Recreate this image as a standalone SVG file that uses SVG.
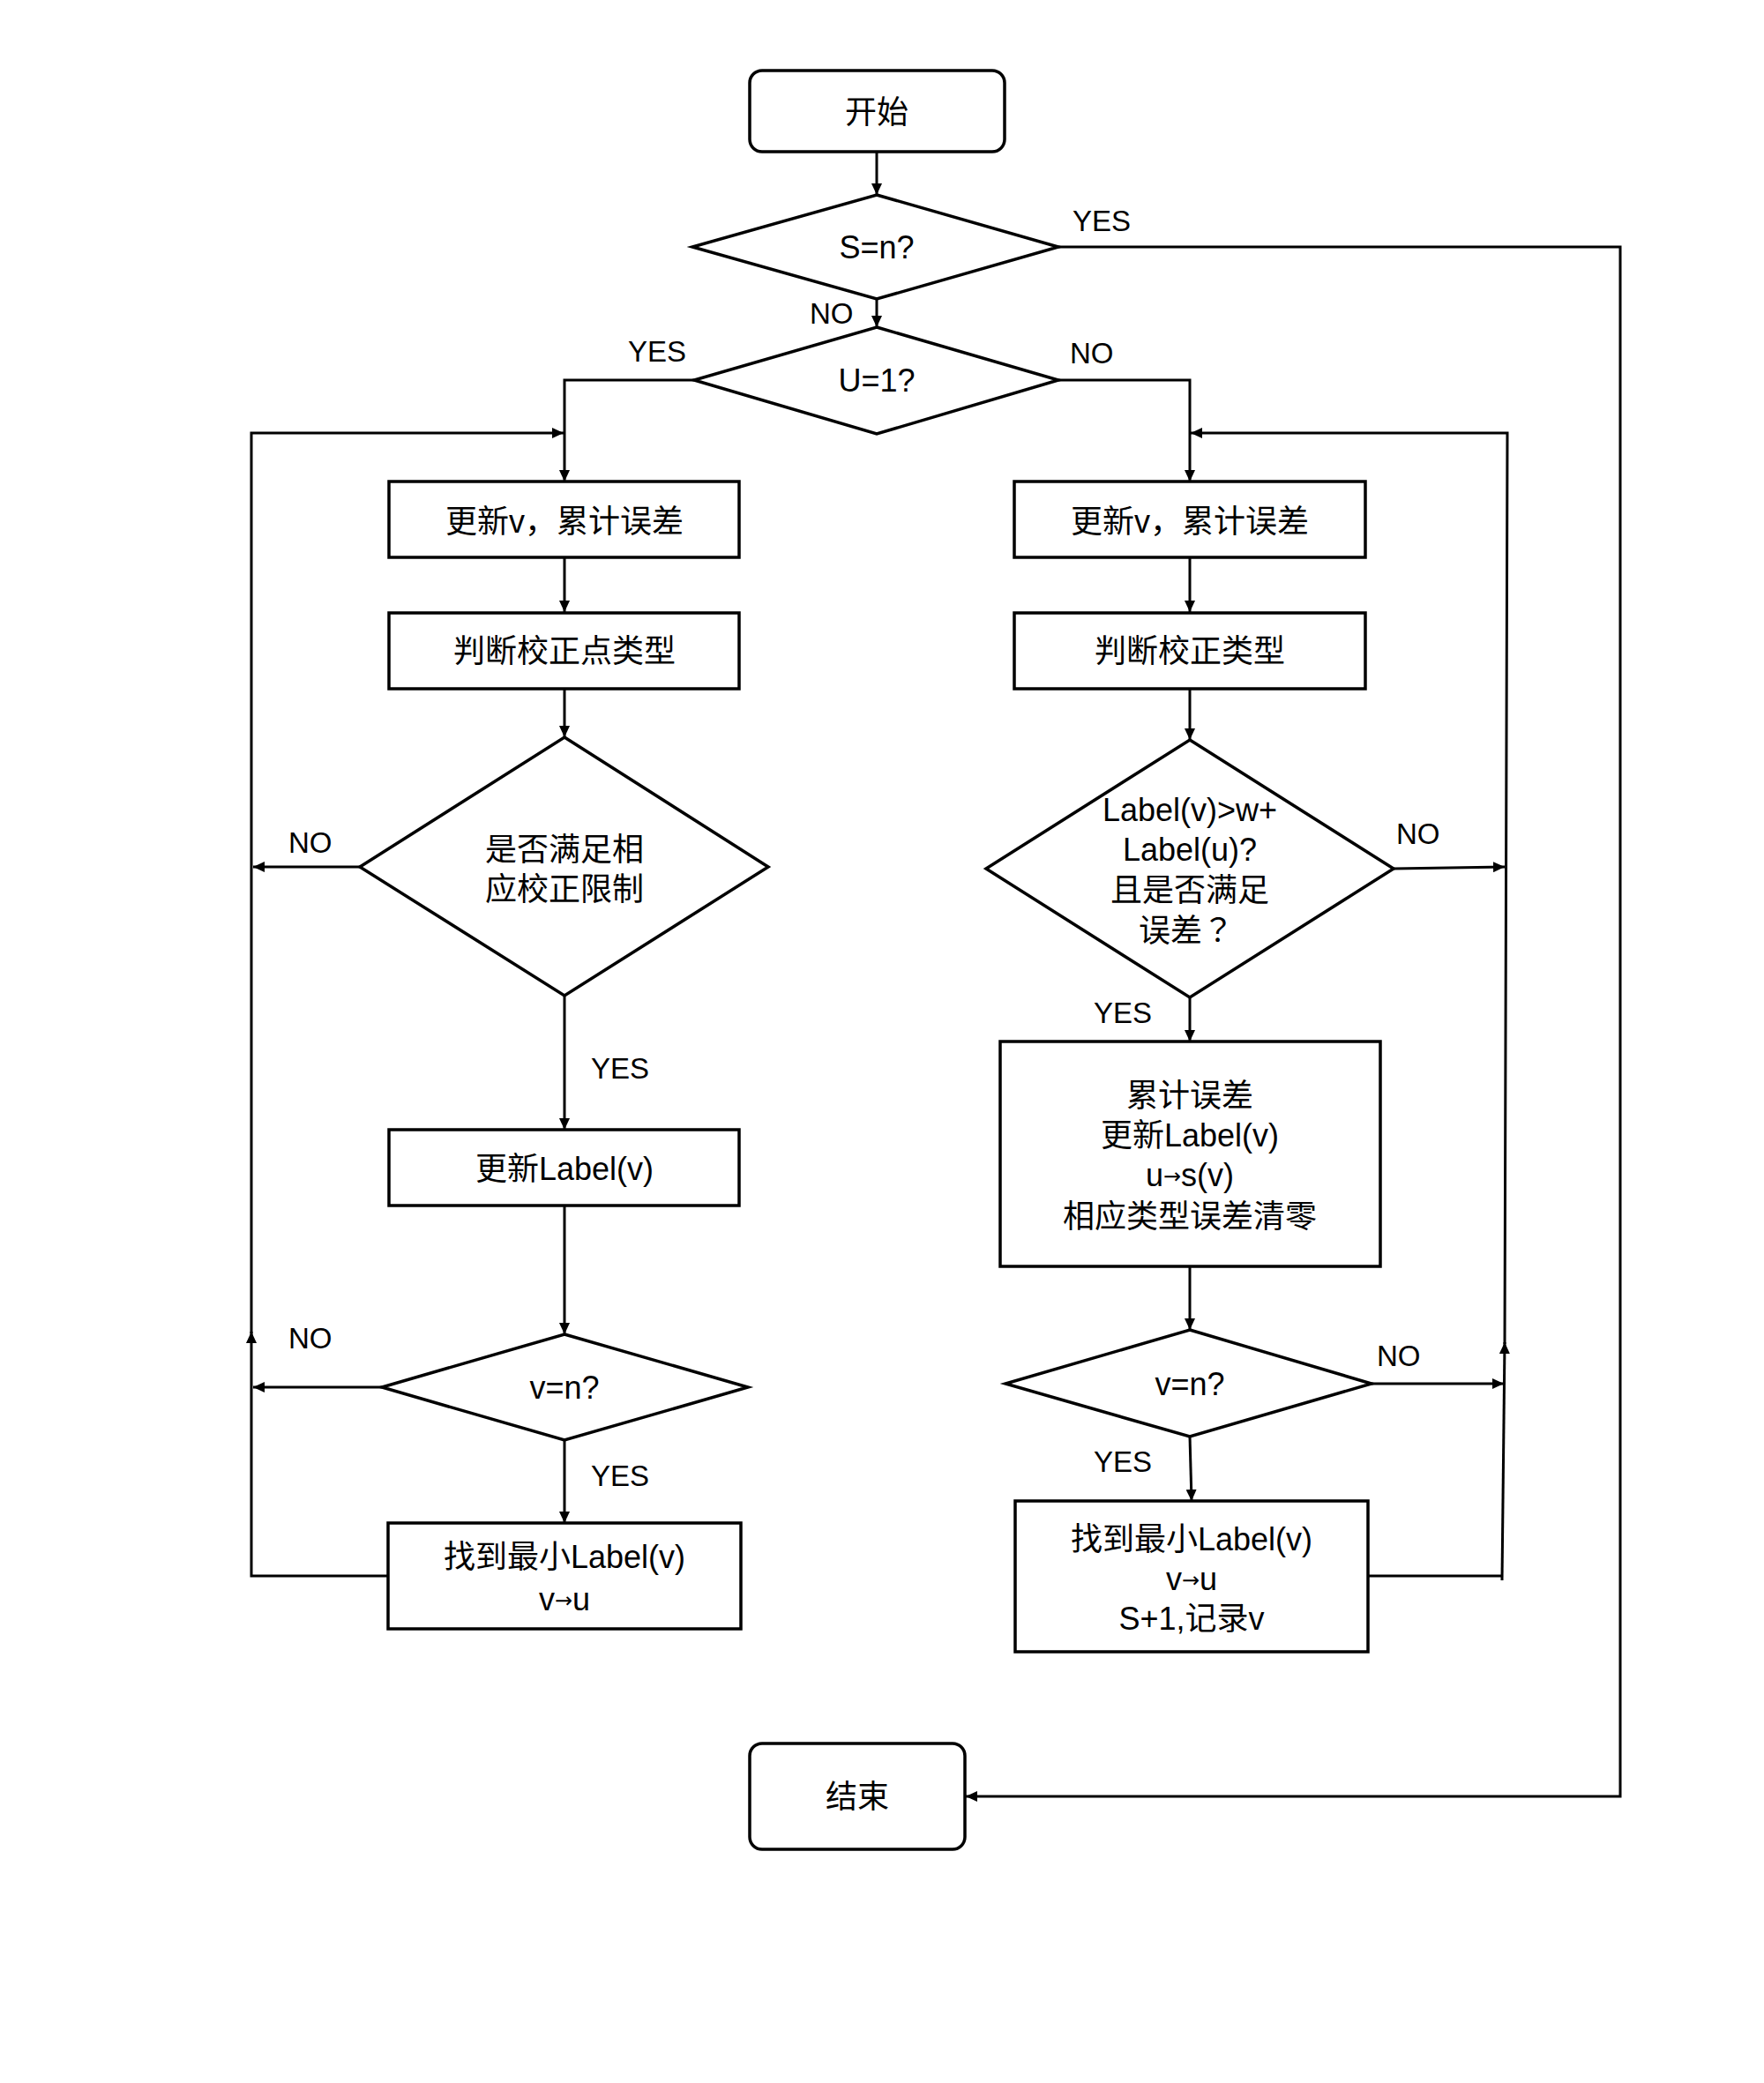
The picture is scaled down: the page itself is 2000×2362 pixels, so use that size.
<svg xmlns="http://www.w3.org/2000/svg" width="2000" height="2362" viewBox="0 0 2000 2362">
<style>
.box{fill:#fff;stroke:#000;stroke-width:3.5}
.ln{fill:none;stroke:#000;stroke-width:3}
.t{font-family:"Liberation Sans","Noto Sans CJK SC",sans-serif;font-size:36px;fill:#000;text-anchor:middle}
.lb{font-family:"Liberation Sans","Noto Sans CJK SC",sans-serif;font-size:33px;fill:#000}
.ar{font-family:"DejaVu Sans",sans-serif;font-size:24px}
.fq{font-family:"Noto Sans CJK TC","Noto Sans CJK SC",sans-serif}
</style>
<defs>
<marker id="ah" markerUnits="userSpaceOnUse" markerWidth="14" markerHeight="12" refX="13" refY="6" orient="auto">
<path d="M0,0 L13,6 L0,12 z" fill="#000"/>
</marker>
</defs>
<rect width="2000" height="2362" fill="#fff"/>

<g id="connectors">
<path class="ln" d="M994,172 V221" marker-end="url(#ah)"/>
<path class="ln" d="M994,339 V371" marker-end="url(#ah)"/>
<path class="ln" d="M1200,280 H1837 V2037 H1095" marker-end="url(#ah)"/>
<path class="ln" d="M787,431 H640 V546" marker-end="url(#ah)"/>
<path class="ln" d="M1200,431 H1349 V546" marker-end="url(#ah)"/>
<!-- left column -->
<path class="ln" d="M640,632 V694" marker-end="url(#ah)"/>
<path class="ln" d="M640,781 V836" marker-end="url(#ah)"/>
<path class="ln" d="M408,983 H287" marker-end="url(#ah)"/>
<path class="ln" d="M640,1129 V1281" marker-end="url(#ah)"/>
<path class="ln" d="M640,1367 V1513" marker-end="url(#ah)"/>
<path class="ln" d="M433,1573 H287" marker-end="url(#ah)"/>
<path class="ln" d="M640,1633 V1727" marker-end="url(#ah)"/>
<path class="ln" d="M440,1787 H285 V1510" marker-end="url(#ah)"/>
<path class="ln" d="M285,1512 V491 H639" marker-end="url(#ah)"/>
<!-- right column -->
<path class="ln" d="M1349,632 V694" marker-end="url(#ah)"/>
<path class="ln" d="M1349,781 V839" marker-end="url(#ah)"/>
<path class="ln" d="M1580,985 L1706,983" marker-end="url(#ah)"/>
<path class="ln" d="M1349,1131 V1181" marker-end="url(#ah)"/>
<path class="ln" d="M1349,1436 V1508" marker-end="url(#ah)"/>
<path class="ln" d="M1555,1569 H1705" marker-end="url(#ah)"/>
<path class="ln" d="M1349,1629 L1351,1702" marker-end="url(#ah)"/>
<path class="ln" d="M1551,1787 H1703"/>
<path class="ln" d="M1703,1792 L1706,1522" marker-end="url(#ah)"/>
<path class="ln" d="M1706,1524 L1709,491 H1350" marker-end="url(#ah)"/>
</g>

<g id="labels">
<text class="lb" x="1216" y="262">YES</text>
<text class="lb" x="918" y="367">NO</text>
<text class="lb" x="712" y="410">YES</text>
<text class="lb" x="1213" y="412">NO</text>
<text class="lb" x="327" y="967">NO</text>
<text class="lb" x="670" y="1223">YES</text>
<text class="lb" x="327" y="1529">NO</text>
<text class="lb" x="670" y="1685">YES</text>
<text class="lb" x="1583" y="957">NO</text>
<text class="lb" x="1240" y="1160">YES</text>
<text class="lb" x="1561" y="1549">NO</text>
<text class="lb" x="1240" y="1669">YES</text>
</g>

<g id="start">
<rect class="box" x="850" y="80" width="289" height="92" rx="14"/>
<text class="t" x="994" y="140">开始</text>
</g>
<g id="dec_s">
<polygon class="box" points="994,221 1200,280 994,339 785,280"/>
<text class="t" x="994" y="293">S=n?</text>
</g>
<g id="dec_u">
<polygon class="box" points="994,371 1200,431 994,492 787,431"/>
<text class="t" x="994" y="444">U=1?</text>
</g>

<g id="l_update">
<rect class="box" x="441" y="546" width="397" height="86"/>
<text class="t" x="640" y="604">更新v，累计误差</text>
</g>
<g id="l_judge">
<rect class="box" x="441" y="695" width="397" height="86"/>
<text class="t" x="640" y="751">判断校正点类型</text>
</g>
<g id="l_check">
<polygon class="box" points="640,836 871,983 640,1129 408,983"/>
<text class="t" x="640" y="976">是否满足相</text>
<text class="t" x="640" y="1021">应校正限制</text>
</g>
<g id="l_label">
<rect class="box" x="441" y="1281" width="397" height="86"/>
<text class="t" x="640" y="1338">更新Label(v)</text>
</g>
<g id="l_vn">
<polygon class="box" points="640,1513 848,1573 640,1633 433,1573"/>
<text class="t" x="640" y="1586">v=n?</text>
</g>
<g id="l_min">
<rect class="box" x="440" y="1727" width="400" height="120"/>
<text class="t" x="640" y="1778">找到最小Label(v)</text>
<text class="t" x="640" y="1826">v<tspan class="ar" dy="-3">→</tspan><tspan dy="3">u</tspan></text>
</g>

<g id="r_update">
<rect class="box" x="1150" y="546" width="398" height="86"/>
<text class="t" x="1349" y="604">更新v，累计误差</text>
</g>
<g id="r_judge">
<rect class="box" x="1150" y="695" width="398" height="86"/>
<text class="t" x="1349" y="751">判断校正类型</text>
</g>
<g id="r_check">
<polygon class="box" points="1349,839 1580,985 1349,1131 1118,985"/>
<text class="t" x="1349" y="931">Label(v)&gt;w+</text>
<text class="t" x="1349" y="976">Label(u)?</text>
<text class="t" x="1349" y="1022">且是否满足</text>
<text class="t" x="1345" y="1068">误差<tspan class="fq">？</tspan></text>
</g>
<g id="r_accum">
<rect class="box" x="1134" y="1181" width="431" height="255"/>
<text class="t" x="1349" y="1255">累计误差</text>
<text class="t" x="1349" y="1300">更新Label(v)</text>
<text class="t" x="1349" y="1345">u<tspan class="ar" dy="-3">→</tspan><tspan dy="3">s(v)</tspan></text>
<text class="t" x="1349" y="1392">相应类型误差清零</text>
</g>
<g id="r_vn">
<polygon class="box" points="1349,1508 1555,1569 1349,1629 1140,1569"/>
<text class="t" x="1349" y="1582">v=n?</text>
</g>
<g id="r_min">
<rect class="box" x="1151" y="1702" width="400" height="171"/>
<text class="t" x="1351" y="1758">找到最小Label(v)</text>
<text class="t" x="1351" y="1803">v<tspan class="ar" dy="-3">→</tspan><tspan dy="3">u</tspan></text>
<text class="t" x="1351" y="1848">S+1,记录v</text>
</g>

<g id="end">
<rect class="box" x="850" y="1977" width="244" height="120" rx="14"/>
<text class="t" x="972" y="2050">结束</text>
</g>
</svg>
